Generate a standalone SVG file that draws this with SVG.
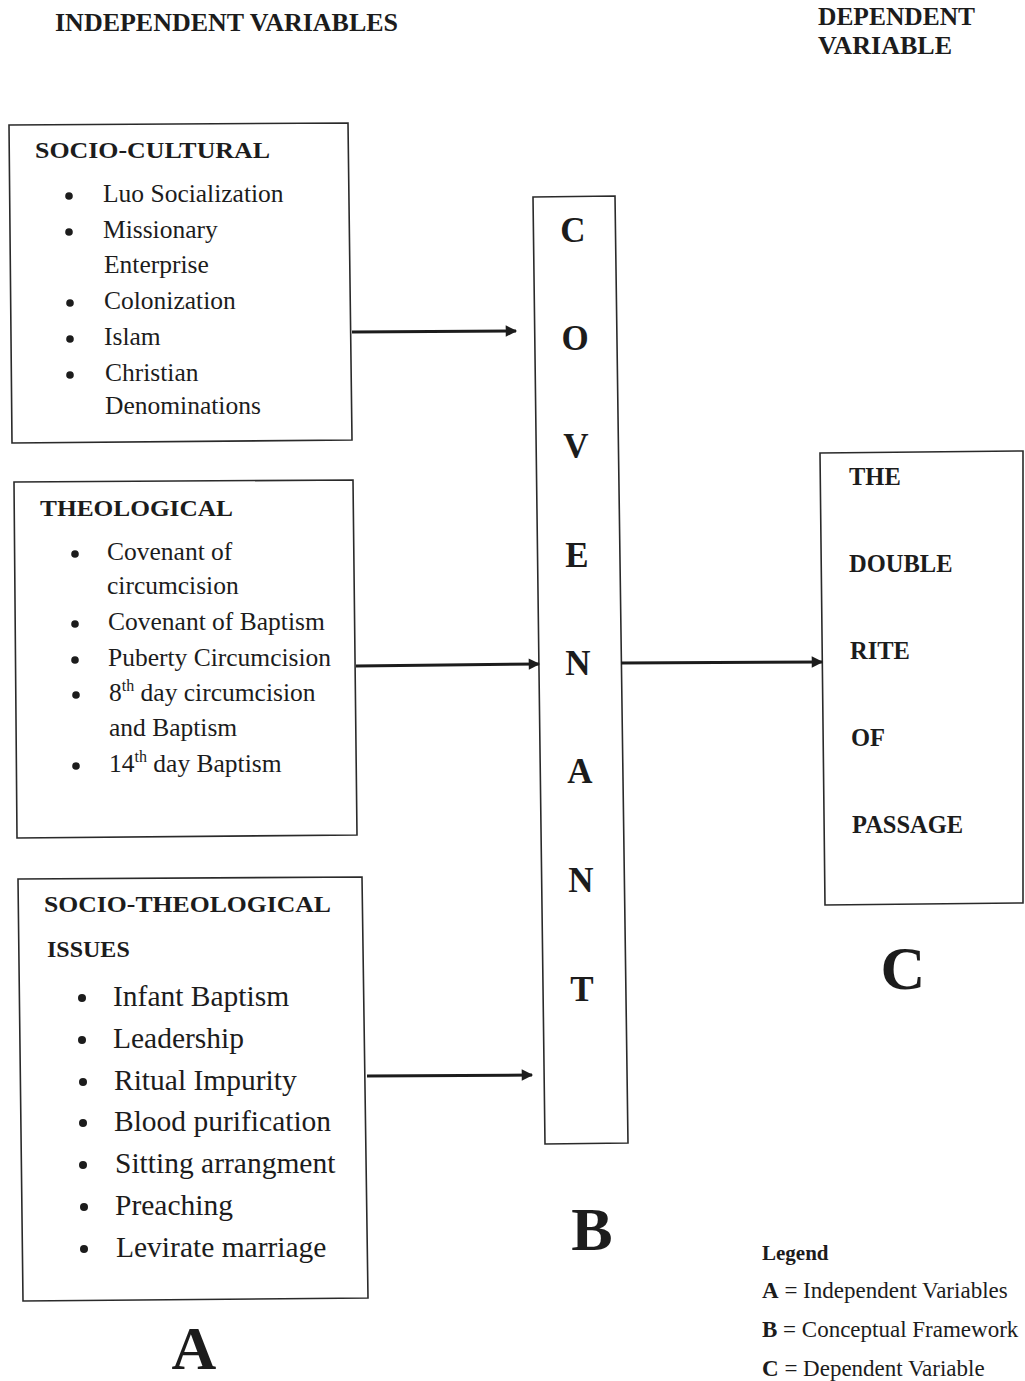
<svg xmlns="http://www.w3.org/2000/svg" width="1025" height="1381" viewBox="0 0 1025 1381">
<defs>
<style>
text{font-family:"Liberation Serif","Times New Roman",serif;fill:#1c1c1c}
.b{font-weight:bold}
.h{font-weight:bold;font-size:24px}
.i{font-size:25.5px}
.i3{font-size:29.5px}
.cv{font-weight:bold;font-size:35px;text-anchor:middle}
.dv{font-weight:bold;font-size:24.5px}
.big{font-weight:bold;font-size:62px;text-anchor:middle}
.lg{font-size:23px}
.box{fill:none;stroke:#2a2a2a;stroke-width:1.6}
.con{stroke:#1c1c1c;stroke-width:3;fill:none}
.dot{fill:#1c1c1c}
</style>
<marker id="ah" viewBox="0 0 10 10" refX="9" refY="5" markerWidth="4.5" markerHeight="3.8" orient="auto" markerUnits="strokeWidth">
<path d="M0,0 L10,5 L0,10 Z" fill="#1c1c1c"/>
</marker>
</defs>
<rect width="1025" height="1381" fill="#ffffff"/>

<g id="titles">
<text class="b" x="55" y="31" font-size="25" textLength="343" lengthAdjust="spacingAndGlyphs">INDEPENDENT VARIABLES</text>
<text class="b" x="818" y="25" font-size="25" textLength="157" lengthAdjust="spacingAndGlyphs">DEPENDENT</text>
<text class="b" x="818" y="54" font-size="25" textLength="134" lengthAdjust="spacingAndGlyphs">VARIABLE</text>
</g>

<g id="socio-cultural">
<polygon class="box" points="9,125 348,123 352,440 12,443"/>
<text class="h" x="35" y="158" textLength="235" lengthAdjust="spacingAndGlyphs">SOCIO-CULTURAL</text>
<circle class="dot" cx="69" cy="196" r="3.8"/>
<circle class="dot" cx="69" cy="232" r="3.8"/>
<circle class="dot" cx="70" cy="303" r="3.8"/>
<circle class="dot" cx="70" cy="339" r="3.8"/>
<circle class="dot" cx="70" cy="375" r="3.8"/>
<g class="i">
<text x="103" y="202">Luo Socialization</text>
<text x="103" y="238">Missionary</text>
<text x="104" y="273">Enterprise</text>
<text x="104" y="309">Colonization</text>
<text x="104" y="345">Islam</text>
<text x="105" y="381">Christian</text>
<text x="105" y="414">Denominations</text>
</g>
</g>

<g id="theological">
<polygon class="box" points="14,482 353,480 357,835 17,838"/>
<text class="h" x="40" y="516" textLength="193" lengthAdjust="spacingAndGlyphs">THEOLOGICAL</text>
<circle class="dot" cx="75" cy="554" r="3.8"/>
<circle class="dot" cx="75" cy="624" r="3.8"/>
<circle class="dot" cx="75" cy="660" r="3.8"/>
<circle class="dot" cx="76" cy="695" r="3.8"/>
<circle class="dot" cx="76" cy="766" r="3.8"/>
<g class="i">
<text x="107" y="560">Covenant of</text>
<text x="107" y="594">circumcision</text>
<text x="108" y="630">Covenant of Baptism</text>
<text x="108" y="666">Puberty Circumcision</text>
<text x="109" y="701">8<tspan font-size="16" dy="-10">th</tspan><tspan dy="10"> day circumcision</tspan></text>
<text x="109" y="736">and Baptism</text>
<text x="109" y="772">14<tspan font-size="16" dy="-10">th</tspan><tspan dy="10"> day Baptism</tspan></text>
</g>
</g>

<g id="socio-theological">
<polygon class="box" points="18,879 362,877 368,1298 23,1301"/>
<text class="h" x="44" y="912" textLength="287" lengthAdjust="spacingAndGlyphs">SOCIO-THEOLOGICAL</text>
<text class="h" x="47" y="957">ISSUES</text>
<circle class="dot" cx="82" cy="998" r="4"/>
<circle class="dot" cx="82" cy="1040" r="4"/>
<circle class="dot" cx="83" cy="1082" r="4"/>
<circle class="dot" cx="83" cy="1123" r="4"/>
<circle class="dot" cx="83" cy="1165" r="4"/>
<circle class="dot" cx="84" cy="1207" r="4"/>
<circle class="dot" cx="84" cy="1249" r="4"/>
<g class="i3">
<text x="113" y="1006">Infant Baptism</text>
<text x="113" y="1048">Leadership</text>
<text x="114" y="1090">Ritual Impurity</text>
<text x="114" y="1131">Blood purification</text>
<text x="115" y="1173">Sitting arrangment</text>
<text x="115" y="1215">Preaching</text>
<text x="116" y="1257">Levirate marriage</text>
</g>
<text class="big" x="194" y="1369">A</text>
</g>

<g id="covenant">
<polygon class="box" points="533,197 615,196 628,1143 545,1144"/>
<text class="cv" x="573" y="242">C</text>
<text class="cv" x="575" y="350">O</text>
<text class="cv" x="576" y="458">V</text>
<text class="cv" x="577" y="567">E</text>
<text class="cv" x="578" y="675">N</text>
<text class="cv" x="580" y="783">A</text>
<text class="cv" x="581" y="892">N</text>
<text class="cv" x="582" y="1001">T</text>
<text class="big" x="592" y="1250">B</text>
</g>

<g id="double-rite">
<polygon class="box" points="820,453 1023,451 1023,903 825,905"/>
<text class="dv" x="849" y="485">THE</text>
<text class="dv" x="849" y="572">DOUBLE</text>
<text class="dv" x="850" y="659">RITE</text>
<text class="dv" x="851" y="746">OF</text>
<text class="dv" x="852" y="833">PASSAGE</text>
<text class="big" x="903" y="989">C</text>
</g>

<g id="legend">
<text class="b" x="762" y="1260" font-size="21">Legend</text>
<text class="lg" x="762" y="1298"><tspan class="b">A</tspan> = Independent Variables</text>
<text class="lg" x="762" y="1337"><tspan class="b">B</tspan> = Conceptual Framework</text>
<text class="lg" x="762" y="1376"><tspan class="b">C</tspan> = Dependent Variable</text>
</g>

<g id="connectors">
<line class="con" x1="352" y1="332" x2="516" y2="331" marker-end="url(#ah)"/>
<line class="con" x1="356" y1="666" x2="539" y2="664" marker-end="url(#ah)"/>
<line class="con" x1="621" y1="663" x2="822" y2="662" marker-end="url(#ah)"/>
<line class="con" x1="367" y1="1076" x2="532" y2="1075" marker-end="url(#ah)"/>
</g>
</svg>
